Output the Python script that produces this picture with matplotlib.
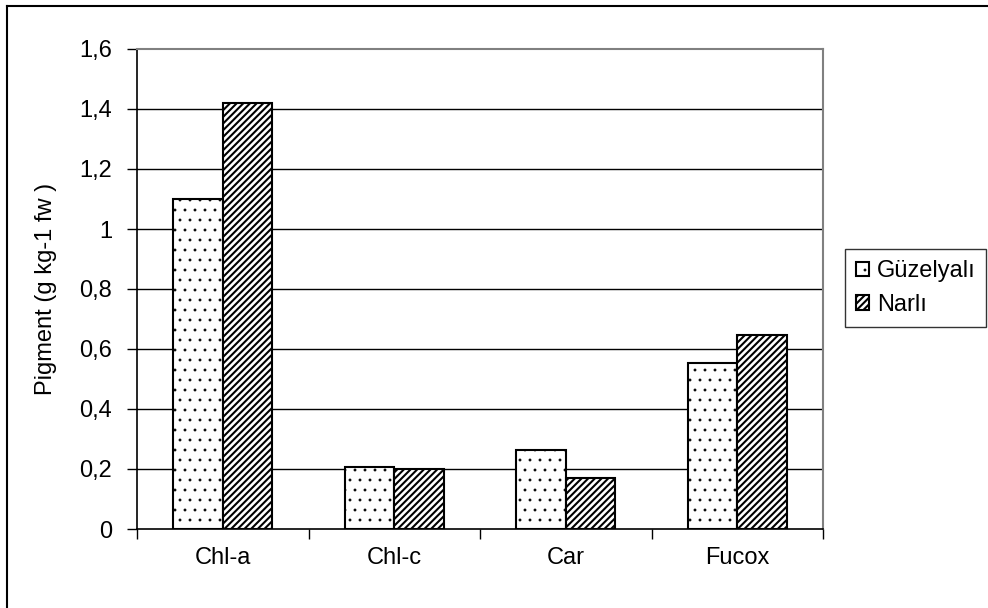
import matplotlib
matplotlib.use("Agg")
import matplotlib.pyplot as plt
import numpy as np
from matplotlib.lines import Line2D
from matplotlib.backend_bases import GraphicsContextBase

categories = ["Chl-a", "Chl-c", "Car", "Fucox"]
guzelyali = [1.10, 0.207, 0.263, 0.553]
narli = [1.42, 0.200, 0.170, 0.647]
series_names = ["Güzelyalı", "Narlı"]
yticks = [0, 0.2, 0.4, 0.6, 0.8, 1.0, 1.2, 1.4, 1.6]
ytick_labels = ["0", "0,2", "0,4", "0,6", "0,8", "1", "1,2", "1,4", "1,6"]

# hatch styling: sparser, thinner dots for the dotted pattern
_orig_hatch_path = GraphicsContextBase.get_hatch_path
def _hatch_path(self, density=6.0):
    h = self.get_hatch()
    if h is not None and '.' in h:
        density = 10
    return _orig_hatch_path(self, density)
GraphicsContextBase.get_hatch_path = _hatch_path
if hasattr(GraphicsContextBase, 'get_hatch_linewidth'):
    _orig_hlw = GraphicsContextBase.get_hatch_linewidth
    def _hlw(self):
        h = self.get_hatch()
        if h is not None and '.' in h:
            return 0.6
        return _orig_hlw(self)
    GraphicsContextBase.get_hatch_linewidth = _hlw

plt.rcParams['font.family'] = ['Liberation Sans', 'DejaVu Sans']
plt.rcParams['hatch.linewidth'] = 1.5

fs = 17
fig = plt.figure(figsize=(9.88, 6.08), dpi=100)
ax = fig.add_axes([137/988, 1 - 529/608, (823 - 137)/988, (529 - 49)/608])

x = np.arange(len(categories))
w = 0.29
b1 = ax.bar(x - w/2, guzelyali, w, facecolor='white', edgecolor='black',
            hatch='.', linewidth=1.5, label=series_names[0], zorder=3)
b2 = ax.bar(x + w/2, narli, w, facecolor='white', edgecolor='black',
            hatch='/////', linewidth=1.5, label=series_names[1], zorder=3)

ax.set_xlim(-0.5, len(categories) - 0.5)
ax.set_ylim(0, 1.6)
ax.set_yticks(yticks)
ax.set_yticklabels(ytick_labels, fontsize=fs)
ax.set_xticks(x)
ax.set_xticklabels(categories, fontsize=fs)
ax.tick_params(axis='x', length=0, pad=13)
ax.tick_params(axis='y', length=7, width=1, direction='out', pad=11)
# category boundary ticks
ax.set_xticks(np.arange(len(categories) + 1) - 0.5, minor=True)
ax.tick_params(axis='x', which='minor', length=7, width=1, direction='out')

for yv in yticks[1:-1]:
    ax.axhline(yv, color='black', linewidth=1, zorder=1)

ax.spines['top'].set_color('#808080')
ax.spines['right'].set_color('#808080')
ax.spines['top'].set_linewidth(1.5)
ax.spines['right'].set_linewidth(1.5)
ax.spines['left'].set_linewidth(1.2)
ax.spines['bottom'].set_linewidth(1.2)

ax.set_ylabel("Pigment (g kg-1 fw )", fontsize=fs, labelpad=16)

leg = fig.legend(handles=[b1, b2], labels=series_names, loc='center left',
                 bbox_to_anchor=(845/988, 1 - 288/608), fontsize=fs,
                 frameon=True, fancybox=False, edgecolor='black',
                 handlelength=0.55, handleheight=0.55, handletextpad=0.35,
                 borderpad=0.45, labelspacing=0.5, borderaxespad=0)
leg.get_frame().set_linewidth(1.0)

# outer chart border
fig.add_artist(Line2D([7/988, 7/988], [0, 1 - 6/608], transform=fig.transFigure,
                      color='black', linewidth=1.5))
fig.add_artist(Line2D([7/988, 1], [1 - 6/608, 1 - 6/608], transform=fig.transFigure,
                      color='black', linewidth=1.5))

fig.savefig("out.png", dpi=100)
